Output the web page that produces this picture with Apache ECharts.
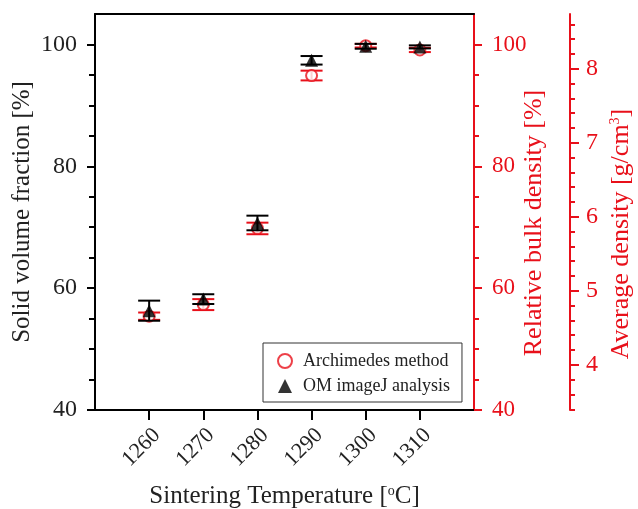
<!DOCTYPE html>
<html>
<head>
<meta charset="utf-8">
<script src="https://cdn.jsdelivr.net/npm/echarts@6/dist/echarts.min.js"></script>
<style>
  html, body { margin: 0; padding: 0; background: #fff; }
  #chart { width: 638px; height: 509px; }
</style>
</head>
<body>
<div id="chart"></div>
<script>
// values
var temps = [1260, 1270, 1280, 1290, 1300, 1310]
var archMean = [55.4, 57.3, 69.8, 94.9, 99.8, 99.1]
var archErr = [0.6, 0.9, 0.95, 0.8, 0.3, 0.35]
var omMean = [56.3, 58.2, 70.7, 97.4, 99.7, 99.6]
var omErr = [1.65, 0.8, 1.2, 0.7, 0.4, 0.25]
var pctTicks = [40, 60, 80, 100]
var densityTicks = [4, 5, 6, 7, 8]
var densityMinor = []
for (var d = 3.4; d < 8.7; d += 0.2) {
  densityMinor.push(Math.round(d * 10) / 10)
}

var RED = '#e8101a'
var FONT = 'Liberation Serif'

function errorBar(color) {
  return function (params, api) {
    var x = api.value(0)
    var lo = api.coord([x, api.value(1)])
    var hi = api.coord([x, api.value(2)])
    var hw = 11
    var style = { stroke: color, lineWidth: 2 }
    return {
      type: 'group',
      children: [
        { type: 'line', shape: { x1: lo[0], y1: lo[1], x2: hi[0], y2: hi[1] }, style: style },
        { type: 'line', shape: { x1: lo[0] - hw, y1: lo[1], x2: lo[0] + hw, y2: lo[1] }, style: style },
        { type: 'line', shape: { x1: hi[0] - hw, y1: hi[1], x2: hi[0] + hw, y2: hi[1] }, style: style }
      ]
    }
  }
}

var archBars = []
var omBars = []
var archPts = []
var omPts = []
for (var i = 0; i < temps.length; i++) {
  archBars.push([temps[i], archMean[i] - archErr[i], archMean[i] + archErr[i]])
  omBars.push([temps[i], omMean[i] - omErr[i], omMean[i] + omErr[i]])
  archPts.push([temps[i], archMean[i]])
  omPts.push([temps[i], omMean[i]])
}

var supRich = function (color) {
  return {
    sup: { fontSize: 14, fontFamily: FONT, color: color, verticalAlign: 'top', padding: [0, 0, 9, 0] }
  }
}

var myChart = echarts.init(document.getElementById('chart'))
var option = {
  animation: false,
  grid: { left: 95, right: 164, top: 14, bottom: 99, outerBoundsMode: 'none', containLabel: false },
  legend: {
    data: ['Archimedes method', 'OM imageJ analysis'],
    orient: 'vertical',
    left: 263,
    top: 343,
    padding: [9, 12, 7, 14],
    itemGap: 7,
    itemWidth: 14,
    itemHeight: 14,
    borderColor: '#333',
    borderWidth: 1,
    textStyle: { fontFamily: FONT, fontSize: 18, color: '#222', padding: [0, 0, 0, 6] }
  },
  xAxis: [{
    type: 'value',
    min: 1250,
    max: 1320,
    interval: 10,
    axisLine: { lineStyle: { color: '#000', width: 2 } },
    axisTick: { customValues: temps, length: 10, lineStyle: { color: '#000', width: 2 } },
    axisLabel: {
      customValues: temps,
      rotate: 45,
      margin: 14,
      align: 'right',
      verticalAlign: 'top',
      fontFamily: FONT,
      fontSize: 22,
      color: '#222',
      formatter: function (v) { return String(v) }
    },
    splitLine: { show: false },
    name: 'Sintering Temperature [{sup|o}C]',
    nameLocation: 'middle',
    nameGap: 74,
    nameMoveOverlap: false,
    nameTextStyle: { fontFamily: FONT, fontSize: 25, color: '#222', rich: supRich('#222') }
  }, {
    type: 'value',
    position: 'top',
    min: 1250,
    max: 1320,
    axisLine: { lineStyle: { color: '#000', width: 2 } },
    axisTick: { show: false },
    axisLabel: { show: false },
    splitLine: { show: false }
  }],
  yAxis: [{
    type: 'value',
    position: 'left',
    min: 40,
    max: 105,
    interval: 20,
    axisLine: { show: true, lineStyle: { color: '#000', width: 2 } },
    axisTick: { show: true, customValues: pctTicks, length: 8, lineStyle: { color: '#000', width: 2 } },
    minorTick: { show: true, splitNumber: 4, length: 6, lineStyle: { color: '#000', width: 2 } },
    axisLabel: { customValues: pctTicks, margin: 18, fontFamily: FONT, fontSize: 24, color: '#222' },
    splitLine: { show: false },
    name: 'Solid volume fraction [%]',
    nameLocation: 'middle',
    nameGap: 60,
    nameMoveOverlap: false,
    nameTextStyle: { fontFamily: FONT, fontSize: 25, color: '#222' }
  }, {
    type: 'value',
    position: 'right',
    min: 40,
    max: 105,
    interval: 20,
    axisLine: { show: true, lineStyle: { color: RED, width: 2 } },
    axisTick: { show: true, customValues: pctTicks, length: 8, lineStyle: { color: RED, width: 2 } },
    minorTick: { show: true, splitNumber: 4, length: 5, lineStyle: { color: RED, width: 2 } },
    axisLabel: { customValues: pctTicks, margin: 18, fontFamily: FONT, fontSize: 23, color: RED },
    splitLine: { show: false },
    name: 'Relative bulk density [%]',
    nameLocation: 'middle',
    nameGap: 47,
    nameMoveOverlap: false,
    nameTextStyle: { fontFamily: FONT, fontSize: 26, color: RED, padding: [0, 22, 0, 0] }
  }, {
    type: 'value',
    position: 'right',
    offset: 96,
    min: 3.39,
    max: 8.74,
    axisLine: { show: true, lineStyle: { color: RED, width: 2 } },
    axisTick: { show: true, customValues: densityTicks, length: 9, lineStyle: { color: RED, width: 2 } },
    axisLabel: { customValues: densityTicks, margin: 16, fontFamily: FONT, fontSize: 24, color: RED },
    splitLine: { show: false },
    name: 'Average density [g/cm{sup|3}]',
    nameLocation: 'middle',
    nameGap: 38,
    nameMoveOverlap: false,
    nameTextStyle: { fontFamily: FONT, fontSize: 26, color: RED, rich: supRich(RED), padding: [0, 44, 0, 0] }
  }, {
    type: 'value',
    position: 'right',
    offset: 96,
    min: 3.39,
    max: 8.74,
    axisLine: { show: false },
    axisTick: { show: true, customValues: densityMinor, length: 5, lineStyle: { color: RED, width: 2 } },
    axisLabel: { show: false },
    splitLine: { show: false }
  }],
  series: [{
    type: 'custom',
    name: 'Archimedes error',
    renderItem: errorBar(RED),
    encode: { x: 0, y: [1, 2] },
    data: archBars,
    z: 2
  }, {
    type: 'scatter',
    name: 'Archimedes method',
    symbol: 'emptyCircle',
    symbolSize: 11,
    itemStyle: { color: RED, borderWidth: 1.5 },
    data: archPts,
    z: 3
  }, {
    type: 'custom',
    name: 'OM error',
    renderItem: errorBar('#000'),
    encode: { x: 0, y: [1, 2] },
    data: omBars,
    z: 4
  }, {
    type: 'scatter',
    name: 'OM imageJ analysis',
    symbol: 'triangle',
    symbolSize: 13,
    itemStyle: { color: '#000' },
    data: omPts,
    z: 5
  }]
}
myChart.setOption(option)
</script>
</body>
</html>
